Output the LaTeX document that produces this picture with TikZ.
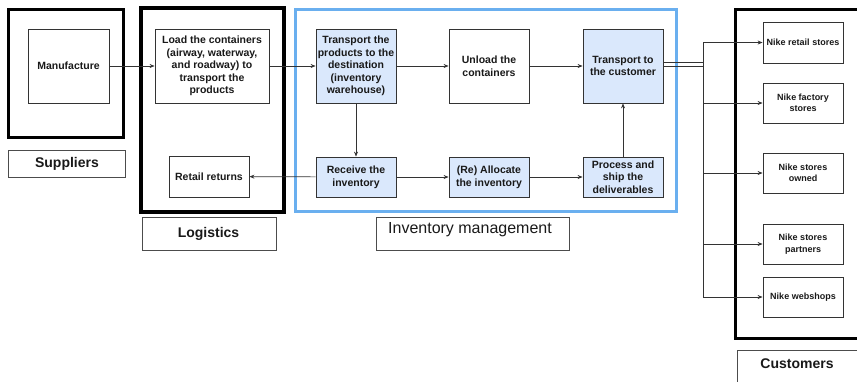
\documentclass[tikz,border=0pt]{standalone}
\usepackage{fontspec}
\setmainfont{Liberation Sans}
\usetikzlibrary{arrows.meta}
\definecolor{lblue}{HTML}{DAE8FC}
\definecolor{frameblue}{HTML}{6AAFEF}
\definecolor{edge}{HTML}{333333}
\begin{document}
\begin{tikzpicture}[x=1pt,y=-1pt,
  box/.style={draw=edge, line width=0.8pt, align=center, inner sep=0pt,
    font=\bfseries\fontsize{10.5}{12.6}\selectfont, text=black!90,
    minimum width=80pt, minimum height=74pt},
  bluebox/.style={box, fill=lblue},
  smallbox/.style={box, minimum height=40pt},
  nikebox/.style={box, minimum height=40pt, font=\bfseries\fontsize{9}{11.5}\selectfont},
  frame/.style={draw=black, line width=3pt},
  labelbox/.style={draw=black!70, line width=0.7pt, inner sep=0pt},
  labeltext/.style={font=\bfseries\fontsize{14}{16}\selectfont, text=black!90},
  conn/.style={draw=edge, line width=0.7pt},
  arr/.style={conn, -{Stealth[length=5pt,width=4pt]}}
]
\useasboundingbox (0,0) rectangle (857,381);
\clip (0,0) rectangle (857,381);
% containers
\draw[frame] (8,9) rectangle (123,137);
\draw[frame, line width=3.5pt] (141,8) rectangle (284,212);
\draw[draw=frameblue, line width=3pt] (295,9) rectangle (676,211);
\draw[frame] (735,9) rectangle (875,338);
% group labels
\node[labelbox, minimum width=117pt, minimum height=27pt] (lsup) at (66.5,163.5) {};
\node[labeltext] (tsup) at (67,163.5) {Suppliers};
\node[labelbox, minimum width=134pt, minimum height=33pt] (llog) at (209,233.5) {};
\node[labeltext] (tlog) at (208.5,234) {Logistics};
\node[labelbox, minimum width=193pt, minimum height=33pt] (linv) at (472.5,233.5) {};
\node[font=\fontsize{16}{18}\selectfont, text=black!90] (tinv) at (470,230) {Inventory management};
\node[labelbox, minimum width=140pt, minimum height=40pt] (lcus) at (807,370) {};
\node[labeltext] (tcus) at (797,363.5) {Customers};
% process nodes
\node[box, minimum width=81pt] (man) at (68.5,66) {Manufacture};
\node[box, minimum width=114pt] (load) at (212,66) {Load the containers\\(airway, waterway,\\and roadway) to\\transport the\\products};
\node[smallbox, minimum height=41pt] (ret) at (209,176.5) {Retail returns};
\node[bluebox] (tp) at (356,66) {Transport the\\products to the\\destination\\(inventory\\warehouse)};
\node[box] (unl) at (489,66) {Unload the\\containers};
\node[bluebox] (tc) at (623,66) {Transport to\\the customer};
\node[smallbox, fill=lblue] (rec) at (356,177) {Receive the\\inventory};
\node[smallbox, fill=lblue] (alloc) at (489,177) {(Re) Allocate\\the inventory};
\node[smallbox, fill=lblue] (proc) at (623,177) {Process and\\ship the\\deliverables};
% customers
\node[nikebox, minimum height=41pt] (n1) at (803,42.5) {Nike retail stores};
\node[nikebox] (n2) at (803,103) {Nike factory\\stores};
\node[nikebox] (n3) at (803,173) {Nike stores\\owned};
\node[nikebox] (n4) at (803,244) {Nike stores\\partners};
\node[nikebox] (n5) at (803,297) {Nike webshops};
% connectors
\draw[arr] (man) -- (load);
\draw[arr] (load) -- (tp);
\draw[arr] (tp) -- (unl);
\draw[arr] (unl) -- (tc);
\draw[arr] (tp) -- (rec);
\draw[arr] (rec) -- (ret);
\draw[arr] (rec) -- (alloc);
\draw[arr] (alloc) -- (proc);
\draw[arr] (proc) -- (tc);
\coordinate (jtop) at (703,42.5);
\coordinate (jbot) at (703,297);
\coordinate (j1) at (703,62);
\coordinate (j2) at (703,66);
\draw[conn] (tc.east |- j1) -- (j1);
\draw[conn] (tc.east) -- (j2);
\draw[conn] (jtop) -- (jbot);
\draw[arr] (jtop) -- (n1);
\draw[arr] (jtop |- n2) -- (n2);
\draw[arr] (jtop |- n3) -- (n3);
\draw[arr] (jtop |- n4) -- (n4);
\draw[arr] (jbot) -- (n5);
\end{tikzpicture}
\end{document}
